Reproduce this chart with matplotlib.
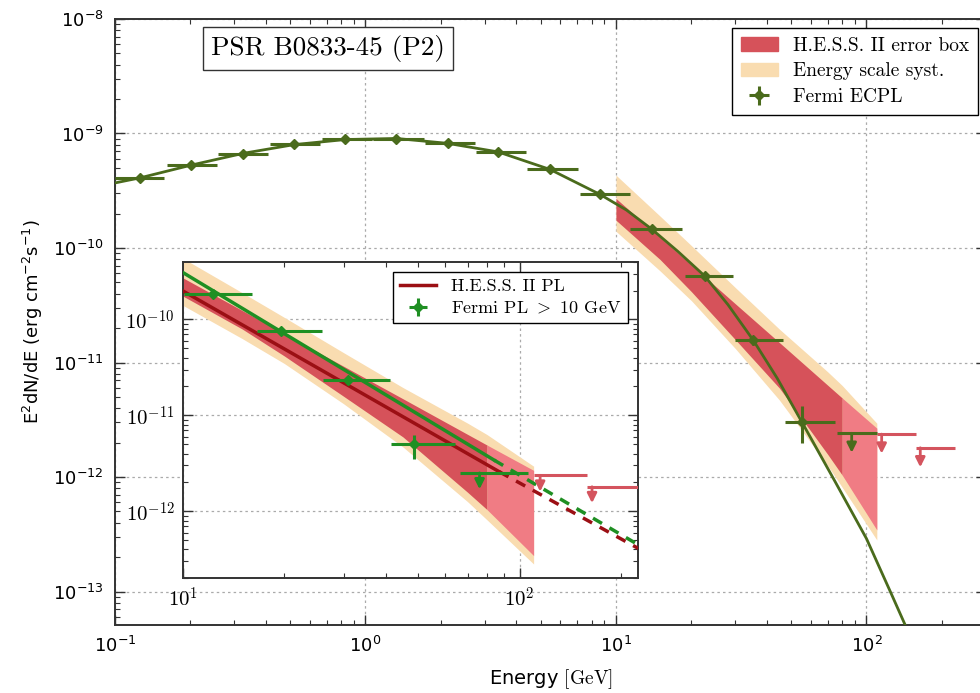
import matplotlib
matplotlib.use('Agg')
import matplotlib.pyplot as plt
import matplotlib.patches as mpatches
from matplotlib.ticker import NullFormatter
import numpy as np

# Fermi ECPL spectral points (main panel)
fermi_E = [0.126, 0.202, 0.324, 0.520, 0.828, 1.33, 2.13, 3.39, 5.46, 8.63, 13.9, 22.6, 35.3, 55.1]
fermi_Elo = [0.100, 0.161, 0.258, 0.416, 0.668, 1.07, 1.73, 2.76, 4.40, 7.18, 11.4, 18.8, 29.9, 47.3]
fermi_Ehi = [0.157, 0.255, 0.408, 0.658, 1.06, 1.72, 2.74, 4.38, 7.06, 11.4, 18.3, 29.3, 46.6, 74.8]
fermi_F = [4.10e-10, 5.28e-10, 6.68e-10, 8.02e-10, 8.87e-10, 9.04e-10, 8.18e-10, 6.92e-10,
           4.85e-10, 2.94e-10, 1.46e-10, 5.69e-11, 1.57e-11, 3.05e-12]
fermi_Flo = [3.95e-10, 5.12e-10, 6.52e-10, 7.86e-10, 8.70e-10, 8.86e-10, 8.00e-10, 6.75e-10,
             4.70e-10, 2.82e-10, 1.38e-10, 5.30e-11, 1.42e-11, 1.98e-12]
fermi_Fhi = [4.25e-10, 5.44e-10, 6.84e-10, 8.18e-10, 9.04e-10, 9.22e-10, 8.36e-10, 7.09e-10,
             5.00e-10, 3.06e-10, 1.54e-10, 6.10e-11, 1.72e-11, 4.15e-12]

# Fermi ECPL model curve
curve_E = [0.1, 0.126, 0.202, 0.324, 0.52, 0.828, 1.33, 2.13, 3.39, 5.46, 8.63, 11.0, 13.9, 17.7,
           22.6, 28.0, 35.3, 44.0, 55.1, 75, 100, 125, 150]
curve_F = [3.7e-10, 4.1e-10, 5.3e-10, 6.7e-10, 8.0e-10, 8.85e-10, 9.05e-10, 8.2e-10, 6.9e-10,
           4.85e-10, 2.94e-10, 2.15e-10, 1.46e-10, 9.3e-11, 5.7e-11, 3.2e-11, 1.57e-11, 7.3e-12,
           3.05e-12, 9.1e-13, 2.9e-13, 9.8e-14, 4.0e-14]

# Fermi upper limit (main)
fermi_ul_E = [87.3]
fermi_ul_lo = [76.0]
fermi_ul_hi = [110.0]
fermi_ul_F = [2.41e-12]

# H.E.S.S. II upper limits
hess_ul_E = [115.0, 164.0]
hess_ul_lo = [110.0, 158.0]
hess_ul_hi = [158.0, 225.0]
hess_ul_F = [2.37e-12, 1.80e-12]

# H.E.S.S. II error box and energy scale systematics
box_E = [10, 15, 20, 30, 45, 70, 80, 110]
red_hi = [2.71e-10, 1.24e-10, 7.11e-11, 3.25e-11, 1.49e-11, 6.34e-12, 4.90e-12, 2.67e-12]
red_lo = [1.75e-10, 7.94e-11, 4.16e-11, 1.58e-11, 5.96e-12, 1.58e-12, 1.04e-12, 3.45e-13]
beige_hi = [4.33e-10, 1.90e-10, 1.05e-10, 4.50e-11, 1.95e-11, 8.30e-12, 6.30e-12, 2.95e-12]
beige_lo = [1.40e-10, 6.31e-11, 3.47e-11, 1.32e-11, 4.68e-12, 1.26e-12, 8.13e-13, 2.82e-13]

# inset: power laws
hess_pl_E = [10, 87]
hess_pl_F = [1.98e-10, 2.58e-12]
hess_pl_dash_E = [87, 225]
hess_pl_dash_F = [2.58e-12, 4.1e-13]
fermi_pl_E = [10, 84]
fermi_pl_F = [3.08e-10, 3.41e-12]
fermi_pl_dash_E = [84, 222]
fermi_pl_dash_F = [3.41e-12, 4.6e-13]

# inset: Fermi PL > 10 GeV points
fpl_E = [12.3, 19.6, 30.9, 48.7]
fpl_Elo = [10.1, 16.6, 26.0, 41.6]
fpl_Ehi = [16.0, 25.8, 41.1, 64.1]
fpl_F = [1.82e-10, 7.55e-11, 2.36e-11, 5.06e-12]
fpl_Flo = [1.70e-10, 7.10e-11, 2.20e-11, 3.51e-12]
fpl_Fhi = [1.95e-10, 8.00e-11, 2.50e-11, 6.17e-12]
fpl_ul_E = [76.0]
fpl_ul_lo = [66.4]
fpl_ul_hi = [106.0]
fpl_ul_F = [2.51e-12]

main_labels = ['H.E.S.S. II error box', 'Energy scale syst.', 'Fermi ECPL']
inset_labels = ['H.E.S.S. II PL', 'Fermi PL $>$ 10 GeV']
title = 'PSR B0833-45 (P2)'

c_red = '#d6525a'
c_pink = '#f07c84'
c_beige = '#f9dcb0'
c_olive = '#4a6b1c'
c_green = '#1f8f23'
c_dred = '#9b0f14'
c_ul = '#d4545e'
spine_c = '#333333'
arrow_fac = 10 ** -0.17


def draw_ul(ax, E, lo, hi, F, color, z):
    for e, l, h, f in zip(E, lo, hi, F):
        ax.plot([l, h], [f, f], color=color, lw=2.2, zorder=z, solid_capstyle='butt')
        ax.add_patch(mpatches.FancyArrowPatch((e, f), (e, f * arrow_fac), arrowstyle='-|>',
                                              color=color, lw=2, mutation_scale=14,
                                              shrinkA=0, shrinkB=0, zorder=z))


def draw_box(ax):
    ax.fill_between(box_E, beige_lo, beige_hi, color=c_beige, lw=0, zorder=1)
    ax.fill_between(box_E[:7], red_lo[:7], red_hi[:7], color=c_red, lw=0, zorder=2)
    ax.fill_between(box_E[6:], red_lo[6:], red_hi[6:], color=c_pink, lw=0, zorder=2)


def style_axes(ax):
    ax.set_xscale('log')
    ax.set_yscale('log')
    for s in ax.spines.values():
        s.set_color(spine_c)
        s.set_linewidth(1.4)
    ax.tick_params(which='both', direction='in', top=True, right=True, color=spine_c)
    ax.tick_params(which='major', length=7, width=1)
    ax.tick_params(which='minor', length=3.5, width=0.8)
    ax.grid(True, which='major', color='#aaaaaa', linestyle=(0, (2, 2.5)), lw=0.9)
    ax.set_axisbelow(True)
    ax.xaxis.set_minor_formatter(NullFormatter())
    ax.yaxis.set_minor_formatter(NullFormatter())


fig = plt.figure(figsize=(9.8, 6.93), dpi=100)
ax = fig.add_axes([0.1173, 0.0981, 0.8888, 0.8745])
style_axes(ax)
ax.set_xlim(0.1, 300)
ax.set_ylim(5.1e-14, 1e-8)
ax.tick_params(which='major', labelsize=13, pad=8)

draw_box(ax)
ax.plot(curve_E, curve_F, color=c_olive, lw=2.0, zorder=3)
eb = ax.errorbar(fermi_E, fermi_F,
                 xerr=[np.array(fermi_E) - np.array(fermi_Elo), np.array(fermi_Ehi) - np.array(fermi_E)],
                 yerr=[np.array(fermi_F) - np.array(fermi_Flo), np.array(fermi_Fhi) - np.array(fermi_F)],
                 fmt='D', ms=5.5, color=c_olive, elinewidth=2.2, capsize=0, zorder=4)
draw_ul(ax, hess_ul_E, hess_ul_lo, hess_ul_hi, hess_ul_F, c_ul, 4)
draw_ul(ax, fermi_ul_E, fermi_ul_lo, fermi_ul_hi, fermi_ul_F, c_olive, 5)

ax.set_xlabel(r'Energy $[\mathrm{GeV}]$', fontsize=14, math_fontfamily='cm', labelpad=8)
ax.set_ylabel(r'E$^2$dN/dE (erg cm$^{-2}$s$^{-1}$)', fontsize=13, labelpad=6)

h_red = mpatches.Patch(color=c_red)
h_beige = mpatches.Patch(color=c_beige)
leg = ax.legend([h_red, h_beige, eb], main_labels, loc='upper right',
                bbox_to_anchor=(0.998, 1 - 28 / 693), bbox_transform=fig.transFigure,
                borderaxespad=0, prop={'family': 'cmr10', 'size': 14}, fancybox=False,
                edgecolor='black', framealpha=1, handlelength=1.9, labelspacing=0.4,
                borderpad=0.45)
leg.get_frame().set_linewidth(1.0)

fig.text(328 / 980, 1 - 48.5 / 693, title, family='cmr10', fontsize=19.5, ha='center', va='center',
         bbox=dict(boxstyle='square,pad=0.28', fc='white', ec=spine_c, lw=1.0))

# inset
axi = fig.add_axes([0.1867, 0.1655, 0.4646, 0.4569], zorder=5)
axi.set_facecolor('white')
style_axes(axi)
axi.set_xlim(10, 225)
axi.set_ylim(2e-13, 4e-10)
draw_box(axi)
axi.plot(hess_pl_E, hess_pl_F, color=c_dred, lw=2.5, zorder=3)
axi.plot(hess_pl_dash_E, hess_pl_dash_F, color=c_dred, lw=2.5, ls=(0, (3, 2.5)), zorder=3)
axi.plot(fermi_pl_E, fermi_pl_F, color=c_green, lw=2.5, zorder=3)
axi.plot(fermi_pl_dash_E, fermi_pl_dash_F, color=c_green, lw=2.5, ls=(0, (3, 2.5)), zorder=3)
ebi = axi.errorbar(fpl_E, fpl_F,
                   xerr=[np.array(fpl_E) - np.array(fpl_Elo), np.array(fpl_Ehi) - np.array(fpl_E)],
                   yerr=[np.array(fpl_F) - np.array(fpl_Flo), np.array(fpl_Fhi) - np.array(fpl_F)],
                   fmt='D', ms=5.5, color=c_green, elinewidth=2.2, capsize=0, zorder=4)
draw_ul(axi, fpl_ul_E, fpl_ul_lo, fpl_ul_hi, fpl_ul_F, c_green, 5)
draw_ul(axi, hess_ul_E, hess_ul_lo, hess_ul_hi, hess_ul_F, c_ul, 4)

axi.set_xticks([10, 100])
axi.set_xticklabels([r'$10^{1}$', r'$10^{2}$'], math_fontfamily='cm', fontsize=15)
axi.set_yticks([1e-12, 1e-11, 1e-10])
axi.set_yticklabels([r'$10^{-12}$', r'$10^{-11}$', r'$10^{-10}$'], math_fontfamily='cm', fontsize=15)
axi.tick_params(which='major', pad=6)

h_line, = axi.plot([], [], color=c_dred, lw=2.5)
legi = axi.legend([h_line, ebi], inset_labels, loc='upper right', borderaxespad=0.55,
                  prop={'family': 'cmr10', 'size': 13}, fancybox=False, edgecolor='black',
                  framealpha=1, handlelength=2.0, labelspacing=0.3)
legi.get_frame().set_linewidth(1.0)
for t in legi.get_texts():
    t.set_math_fontfamily('cm')

fig.savefig('out.png', dpi=100)
